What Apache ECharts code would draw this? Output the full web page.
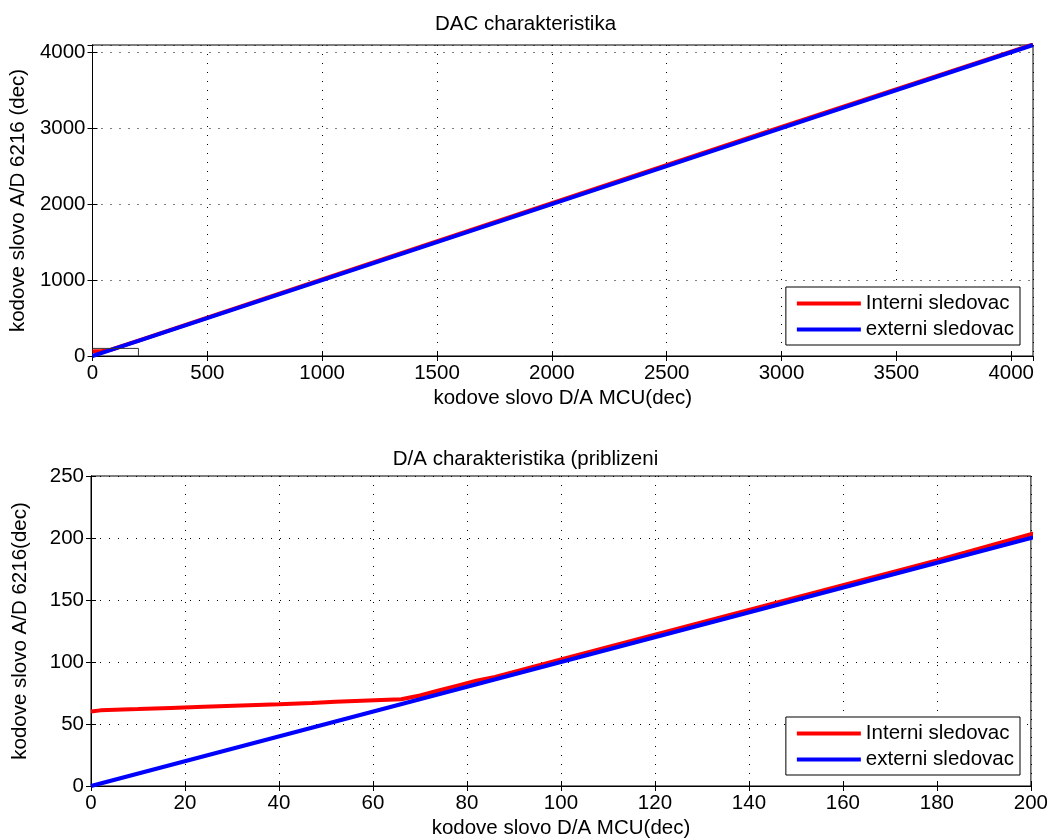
<!DOCTYPE html>
<html lang="en">
<head>
<meta charset="UTF-8">
<title>DAC charakteristika</title>
<script src="https://cdn.jsdelivr.net/npm/echarts@6/dist/echarts.min.js"></script>
</head>
<body style="margin:0;">
<div id="chart" style="width:1051px;height:840px;"></div>
<script>
// data
var titles = ['DAC charakteristika', 'D/A charakteristika (priblizeni'];
var seriesNames = ['Interni sledovac', 'externi sledovac'];

// interni sledovac (red)
var redX = [0, 2, 10, 17, 24, 32, 40, 47, 52, 59, 66, 70, 74, 78, 82, 86, 90, 94, 98, 100, 120, 140, 160, 180, 200, 500, 1000, 2000, 3000, 4095];
var redY = [60, 61, 62, 63, 64, 65, 66, 67, 68, 69, 70, 73, 77, 81, 85, 88, 92, 96, 100, 102, 122, 142, 162, 182, 203, 506, 1008, 2012, 3018, 4102];
// externi sledovac (blue)
var blueX = [0, 100, 200, 1000, 2000, 3000, 4095];
var blueY = [0, 100, 200, 1000, 2000, 3000, 4095];
// zoom box drawn in the upper plot
var boxX = [0, 200, 200];
var boxY = [100, 100, 0];

function pairs(xs, ys) {
    return xs.map(function (x, i) { return [x, ys[i]]; });
}

var font = 'Liberation Sans, Arial, Helvetica, sans-serif';
var fs = 20.5;
var dotted = { color: '#000', width: 1, type: [1, 8] };

function axis(pos, idx, min, max, step, name, gap, main) {
    var a = {
        type: 'value', gridIndex: idx, position: pos, min: min, max: max, interval: step,
        axisLine: { show: true, lineStyle: { color: '#000', width: 1 } },
        axisTick: { show: true, inside: true, length: 5, lineStyle: { color: '#000' } },
        axisLabel: {
            show: main, color: '#000', fontSize: fs, fontFamily: font, margin: 7,
            showMaxLabel: max % step === 0,
            formatter: function (v) { return String(v); }
        },
        splitLine: { show: main, lineStyle: dotted }
    };
    if (main) {
        a.name = name;
        a.nameLocation = 'middle';
        a.nameGap = gap;
        a.nameTextStyle = { color: '#000', fontSize: fs, fontFamily: font };
    }
    return a;
}

var chart = echarts.init(document.getElementById('chart'));

function legend(top) {
    return {
        data: seriesNames, orient: 'vertical', right: 31, top: top,
        icon: 'rect', itemWidth: 64, itemHeight: 4, itemGap: 5,
        padding: [6, 6, 5, 11],
        borderColor: '#000', borderWidth: 1, backgroundColor: '#fff',
        textStyle: { color: '#000', fontSize: fs, fontFamily: font, lineHeight: 21 }
    };
}

var option = {
    backgroundColor: '#fff',
    animation: false,
    title: [
        { text: titles[0], left: 'center', top: 9, textStyle: { color: '#000', fontSize: fs, fontWeight: 'normal', fontFamily: font } },
        { text: titles[1], left: 'center', top: 444, textStyle: { color: '#000', fontSize: fs, fontWeight: 'normal', fontFamily: font } }
    ],
    grid: [
        { left: 91, right: 18, top: 45, height: 311, show: true, borderColor: '#000', borderWidth: 1 },
        { left: 91, right: 18, top: 476, height: 312, show: true, borderColor: '#000', borderWidth: 1 }
    ],
    legend: [legend(287), legend(717)],
    xAxis: [
        axis('bottom', 0, 0, 4095, 500, 'kodove slovo D/A MCU(dec)', 32, true),
        axis('top', 0, 0, 4095, 500, '', 0, false),
        axis('bottom', 1, 0, 200, 20, 'kodove slovo D/A MCU(dec)', 32, true),
        axis('top', 1, 0, 200, 20, '', 0, false)
    ],
    yAxis: [
        axis('left', 0, 0, 4095, 1000, 'kodove slovo A/D 6216 (dec)', 60, true),
        axis('right', 0, 0, 4095, 1000, '', 0, false),
        axis('left', 1, 0, 250, 50, 'kodove slovo A/D 6216(dec)', 60, true),
        axis('right', 1, 0, 250, 50, '', 0, false)
    ],
    series: [
        { name: seriesNames[0], type: 'line', xAxisIndex: 0, yAxisIndex: 0, data: pairs(redX, redY), showSymbol: false, lineStyle: { color: '#ff0000', width: 4 }, itemStyle: { color: '#ff0000' } },
        { name: seriesNames[1], type: 'line', xAxisIndex: 0, yAxisIndex: 0, data: pairs(blueX, blueY), showSymbol: false, lineStyle: { color: '#0000ff', width: 4 }, itemStyle: { color: '#0000ff' } },
        { name: 'box', type: 'line', xAxisIndex: 0, yAxisIndex: 0, data: pairs(boxX, boxY), showSymbol: false, silent: true, lineStyle: { color: '#333', width: 1 } },
        { name: seriesNames[0], type: 'line', xAxisIndex: 2, yAxisIndex: 2, data: pairs(redX, redY), showSymbol: false, lineStyle: { color: '#ff0000', width: 4 }, itemStyle: { color: '#ff0000' } },
        { name: seriesNames[1], type: 'line', xAxisIndex: 2, yAxisIndex: 2, data: pairs(blueX, blueY), showSymbol: false, lineStyle: { color: '#0000ff', width: 4 }, itemStyle: { color: '#0000ff' } }
    ]
};

chart.setOption(option);
</script>
</body>
</html>
